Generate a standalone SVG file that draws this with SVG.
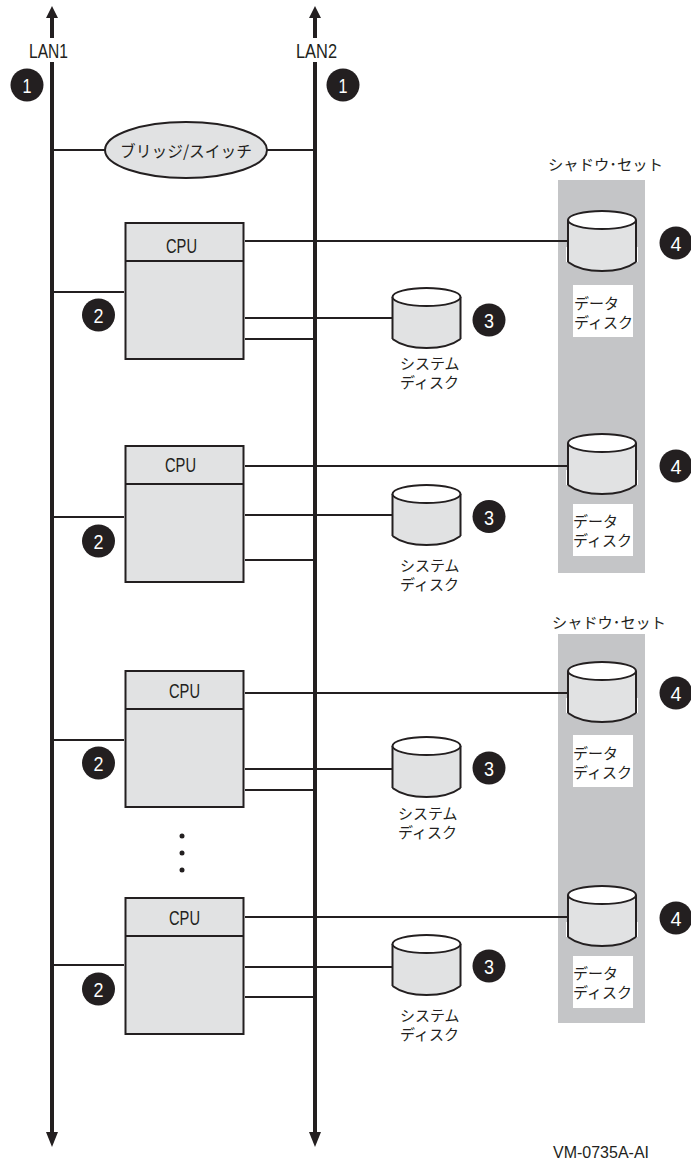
<svg xmlns="http://www.w3.org/2000/svg" width="691" height="1163" viewBox="0 0 691 1163">
<style>
.t{font-family:"Noto Sans CJK JP","Liberation Sans",sans-serif;font-size:15px;fill:#231f20}
.l{font-family:"Liberation Sans",sans-serif;font-size:21px;fill:#231f20}
.n{font-family:"Liberation Sans",sans-serif;font-size:21px;fill:#fff;text-anchor:middle}
.c{stroke:#231f20;stroke-width:2;fill:none}
.b{stroke:#231f20;stroke-width:4;fill:none}
.box{fill:#e1e2e3;stroke:#231f20;stroke-width:2}
.p{fill:#c4c5c7}
.w{fill:#fff}
</style>
<defs>
<g id="disk">
<path d="M0 9V52C8 57 20 60 34 60S60 57 68 52V9Z" fill="#e1e2e3"/>
<path d="M0 9V51M68 9V51M0 51C8 57 20 60 34 60S60 57 68 51" fill="none" stroke="#231f20" stroke-width="2"/>
<ellipse cx="34" cy="9" rx="34" ry="9" fill="#fff" stroke="#231f20" stroke-width="2"/>
</g>
<path id="tick" d="M-1.500 36V51M69.500 36V51" stroke="#fff" stroke-width="1" fill="none"/>
<g id="cpu">
<rect x="125.500" y="0" width="118" height="136" class="box"/>
<path d="M125.500 38H243.500" class="c"/>
</g>
<circle id="bd" r="16.500" fill="#231f20"/>
</defs>

<g id="shadow-panels">
<rect x="558" y="180" width="87" height="393" class="p"/>
<rect x="558" y="634" width="87" height="389" class="p"/>
<text x="548" y="170" class="t" textLength="115" lengthAdjust="spacingAndGlyphs">シャドウ･セット</text>
<text x="552" y="628" class="t" textLength="114" lengthAdjust="spacingAndGlyphs">シャドウ･セット</text>
</g>

<g id="connectors">
<path class="b" d="M52 16V38M52 62V1134M315 16V38M315 62V1134"/>
<path fill="#231f20" d="M52 6L46 18H58ZM315 6L309 18H321ZM52 1147L46 1132H58ZM315 1147L309 1132H321Z"/>
<path class="c" d="M52 150H105M267 150H315"/>
<path class="c" d="M52 292H124M245 241H568M245 318H393M245 339H315"/>
<path class="c" d="M52 517H124M245 466H568M245 515H393M245 560H315"/>
<path class="c" d="M52 740H124M245 693H568M245 769H393M245 790H315"/>
<path class="c" d="M52 965H124M245 917H568M245 967H393M245 997H315"/>
</g>

<g id="lan1"><text x="29" y="58" class="l" textLength="39" lengthAdjust="spacingAndGlyphs">LAN1</text><use href="#bd" x="27" y="85"/><text x="27" y="93" class="n" textLength="9" lengthAdjust="spacingAndGlyphs">1</text></g>
<g id="lan2"><text x="296" y="58" class="l" textLength="41" lengthAdjust="spacingAndGlyphs">LAN2</text><use href="#bd" x="343" y="85"/><text x="343" y="93" class="n" textLength="9" lengthAdjust="spacingAndGlyphs">1</text></g>

<g id="bridge">
<ellipse cx="186" cy="150" rx="81" ry="28" class="box"/>
<text x="186" y="157" class="t" text-anchor="middle" textLength="132" lengthAdjust="spacingAndGlyphs" style="font-size:16px">ブリッジ/スイッチ</text>
</g>

<g id="cpu1"><use href="#cpu" y="223"/><text x="166" y="253" class="l" textLength="31" lengthAdjust="spacingAndGlyphs">CPU</text></g>
<g id="cpu2"><use href="#cpu" y="446"/><text x="165" y="472" class="l" textLength="31" lengthAdjust="spacingAndGlyphs">CPU</text></g>
<g id="cpu3"><use href="#cpu" y="671"/><text x="169" y="698" class="l" textLength="31" lengthAdjust="spacingAndGlyphs">CPU</text></g>
<g id="cpu4"><use href="#cpu" y="898"/><text x="169" y="925" class="l" textLength="31" lengthAdjust="spacingAndGlyphs">CPU</text></g>

<g id="badges2">
<use href="#bd" x="98.500" y="315"/><text x="98.500" y="323" class="n" textLength="10" lengthAdjust="spacingAndGlyphs">2</text>
<use href="#bd" x="98.500" y="541"/><text x="98.500" y="549" class="n" textLength="10" lengthAdjust="spacingAndGlyphs">2</text>
<use href="#bd" x="98.500" y="763"/><text x="98.500" y="771" class="n" textLength="10" lengthAdjust="spacingAndGlyphs">2</text>
<use href="#bd" x="98.500" y="989"/><text x="98.500" y="997" class="n" textLength="10" lengthAdjust="spacingAndGlyphs">2</text>
</g>

<g id="system-disk1"><use href="#disk" x="392.500" y="288"/><use href="#bd" x="489" y="320"/><text x="489" y="328" class="n" textLength="10" lengthAdjust="spacingAndGlyphs">3</text>
<text x="400" y="369" class="t">システム</text><text x="400" y="388" class="t">ディスク</text></g>
<g id="system-disk2"><use href="#disk" x="392.500" y="485"/><use href="#bd" x="489" y="516.500"/><text x="489" y="524.500" class="n" textLength="10" lengthAdjust="spacingAndGlyphs">3</text>
<text x="400" y="571" class="t">システム</text><text x="400" y="590" class="t">ディスク</text></g>
<g id="system-disk3"><use href="#disk" x="392.500" y="737"/><use href="#bd" x="489" y="768"/><text x="489" y="776" class="n" textLength="10" lengthAdjust="spacingAndGlyphs">3</text>
<text x="398" y="819" class="t">システム</text><text x="398" y="838" class="t">ディスク</text></g>
<g id="system-disk4"><use href="#disk" x="392.500" y="935"/><use href="#bd" x="489" y="966"/><text x="489" y="974" class="n" textLength="10" lengthAdjust="spacingAndGlyphs">3</text>
<text x="400" y="1021" class="t">システム</text><text x="400" y="1040" class="t">ディスク</text></g>

<g id="data-disk1"><use href="#disk" x="568" y="211"/><use href="#tick" x="568" y="211"/><use href="#bd" x="676" y="243"/><text x="676" y="251" class="n" textLength="11" lengthAdjust="spacingAndGlyphs">4</text>
<rect x="573" y="285" width="60" height="52" class="w"/><text x="574" y="309" class="t">データ</text><text x="574" y="328" class="t">ディスク</text></g>
<g id="data-disk2"><use href="#disk" x="568" y="434"/><use href="#tick" x="568" y="434"/><use href="#bd" x="676" y="466"/><text x="676" y="474" class="n" textLength="11" lengthAdjust="spacingAndGlyphs">4</text>
<rect x="573" y="504" width="60" height="52" class="w"/><text x="573" y="527" class="t">データ</text><text x="573" y="546" class="t">ディスク</text></g>
<g id="data-disk3"><use href="#disk" x="568" y="662"/><use href="#tick" x="568" y="662"/><use href="#bd" x="676" y="693"/><text x="676" y="701" class="n" textLength="11" lengthAdjust="spacingAndGlyphs">4</text>
<rect x="573" y="735" width="60" height="52" class="w"/><text x="573" y="759" class="t">データ</text><text x="573" y="778" class="t">ディスク</text></g>
<g id="data-disk4"><use href="#disk" x="568" y="886"/><use href="#tick" x="568" y="886"/><use href="#bd" x="676" y="918"/><text x="676" y="926" class="n" textLength="11" lengthAdjust="spacingAndGlyphs">4</text>
<rect x="573" y="956" width="60" height="52" class="w"/><text x="573" y="979" class="t">データ</text><text x="573" y="998" class="t">ディスク</text></g>

<g id="dots" fill="#231f20"><circle cx="182" cy="836" r="2.500"/><circle cx="182" cy="853" r="2.500"/><circle cx="182" cy="870" r="2.500"/></g>
<text id="figure-id" x="553" y="1158" class="l" style="font-size:17px" textLength="96" lengthAdjust="spacingAndGlyphs">VM-0735A-AI</text>
</svg>
